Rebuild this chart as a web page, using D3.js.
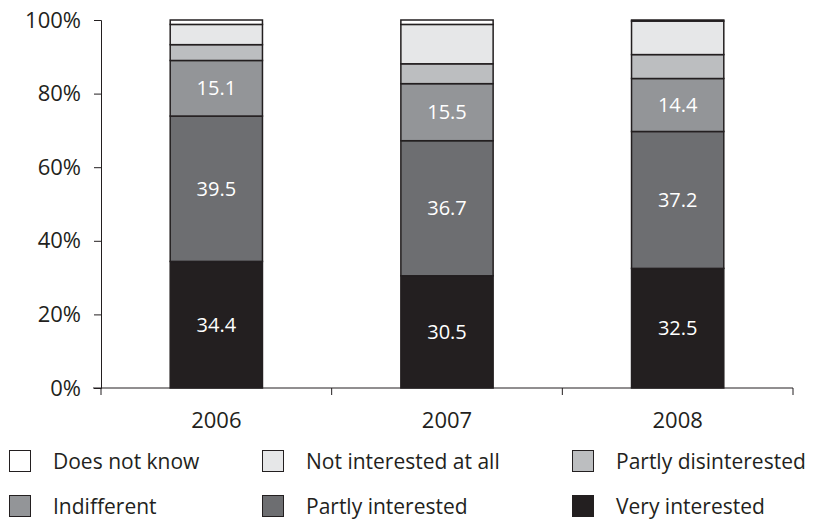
<!DOCTYPE html>
<html>
<head>
<meta charset="utf-8">
<script src="https://cdn.jsdelivr.net/npm/d3@7"></script>
<style>
  body { margin: 0; background: #fff; }
  text { font-family: "Open Sans", "DejaVu Sans", sans-serif; fill: #231f20; }
</style>
</head>
<body>
<div id="chart"></div>
<script>
// datos
const years = ["2006", "2007", "2008"];
const categories = ["Very interested", "Partly interested", "Indifferent",
                    "Partly disinterested", "Not interested at all", "Does not know"];
const veryInterested = [34.4, 30.5, 32.5];
const partlyInterested = [39.5, 36.7, 37.2];
const indifferent = [15.1, 15.5, 14.4];
const partlyDisinterested = [4.3, 5.4, 6.5];
const notInterested = [5.5, 10.7, 9.1];
const doesNotKnow = [1.2, 1.2, 0.3];
const yTicks = [0, 20, 40, 60, 80, 100];
const legendOrder = ["Does not know", "Not interested at all", "Partly disinterested",
                     "Indifferent", "Partly interested", "Very interested"];
const labelled = ["Very interested", "Partly interested", "Indifferent"];

const colores = {
  "Very interested": "#231f20",
  "Partly interested": "#6d6e71",
  "Indifferent": "#939598",
  "Partly disinterested": "#bcbec0",
  "Not interested at all": "#e6e7e8",
  "Does not know": "#ffffff"
};

const w = 819, h = 520;
const margin = { top: 20, right: 26, bottom: 132, left: 101 };

// tabla para d3.stack
const tabla = years.map((y, i) => ({
  year: y,
  "Very interested": veryInterested[i],
  "Partly interested": partlyInterested[i],
  "Indifferent": indifferent[i],
  "Partly disinterested": partlyDisinterested[i],
  "Not interested at all": notInterested[i],
  "Does not know": doesNotKnow[i]
}));

const series = d3.stack().keys(categories)(tabla);

const xScale = d3.scaleBand()
  .domain(years)
  .range([margin.left, w - margin.right])
  .padding(0);

const yScale = d3.scaleLinear()
  .domain([0, 100])
  .range([h - margin.bottom, margin.top]);

const barW = xScale.bandwidth() * 0.4;

const svg = d3.select("#chart")
  .append("svg")
  .attr("width", w)
  .attr("height", h);

// columnas apiladas
svg.append("g")
  .selectAll("g")
  .data(series)
  .enter()
  .append("g")
  .attr("fill", s => colores[s.key])
  .selectAll("rect")
  .data(s => s)
  .enter()
  .append("rect")
  .attr("x", d => xScale(d.data.year) + xScale.bandwidth() / 2 - barW / 2)
  .attr("y", d => yScale(d[1]))
  .attr("height", d => yScale(d[0]) - yScale(d[1]))
  .attr("width", barW)
  .attr("stroke", "#231f20")
  .attr("stroke-width", 1.5);

// etiquetas de valores
svg.append("g")
  .selectAll("g")
  .data(series.filter(s => labelled.includes(s.key)))
  .enter()
  .append("g")
  .selectAll("text")
  .data(s => s.map(d => ({ d: d, key: s.key })))
  .enter()
  .append("text")
  .attr("x", o => xScale(o.d.data.year) + xScale.bandwidth() / 2)
  .attr("y", o => (yScale(o.d[0]) + yScale(o.d[1])) / 2)
  .attr("dy", "0.35em")
  .attr("text-anchor", "middle")
  .style("font-size", "20px")
  .style("fill", "#ffffff")
  .text(o => o.d.data[o.key].toFixed(1));

// ejes
const yAxis = d3.axisLeft(yScale).tickValues(yTicks).tickFormat(d => d + "%").tickSize(7).tickPadding(13);
const gy = svg.append("g")
  .attr("transform", `translate(${margin.left},0)`)
  .call(yAxis);
gy.selectAll("text").style("font-size", "22px");

const tickPos = years.map(y => xScale(y)).concat([w - margin.right]);
const gx = svg.append("g");
gx.append("line")
  .attr("x1", margin.left - 8).attr("x2", w - margin.right)
  .attr("y1", yScale(0)).attr("y2", yScale(0))
  .attr("stroke", "#231f20");
gx.selectAll("line.tick")
  .data(tickPos)
  .enter()
  .append("line")
  .attr("class", "tick")
  .attr("x1", d => d).attr("x2", d => d)
  .attr("y1", yScale(0)).attr("y2", yScale(0) + 7)
  .attr("stroke", "#231f20");
gx.selectAll("text")
  .data(years)
  .enter()
  .append("text")
  .attr("x", d => xScale(d) + xScale.bandwidth() / 2)
  .attr("y", yScale(0) + 40)
  .attr("text-anchor", "middle")
  .style("font-size", "22px")
  .text(d => d);
svg.selectAll(".domain").attr("stroke", "#231f20");
svg.selectAll(".tick line").attr("stroke", "#231f20");

// leyenda
const legX = [9, 262, 572];
const legY = [450, 495];
const leyenda = svg.append("g")
  .selectAll("g")
  .data(legendOrder)
  .enter()
  .append("g")
  .attr("transform", (d, i) => `translate(${legX[i % 3]},${legY[Math.floor(i / 3)]})`);
leyenda.append("rect")
  .attr("x", 0.5).attr("y", 0.5)
  .attr("width", 21).attr("height", 21)
  .attr("fill", d => colores[d])
  .attr("stroke", "#231f20")
  .attr("stroke-width", 1);
leyenda.append("text")
  .attr("x", 44)
  .attr("y", 19)
  .style("font-size", "21px")
  .text(d => d);
</script>
</body>
</html>
